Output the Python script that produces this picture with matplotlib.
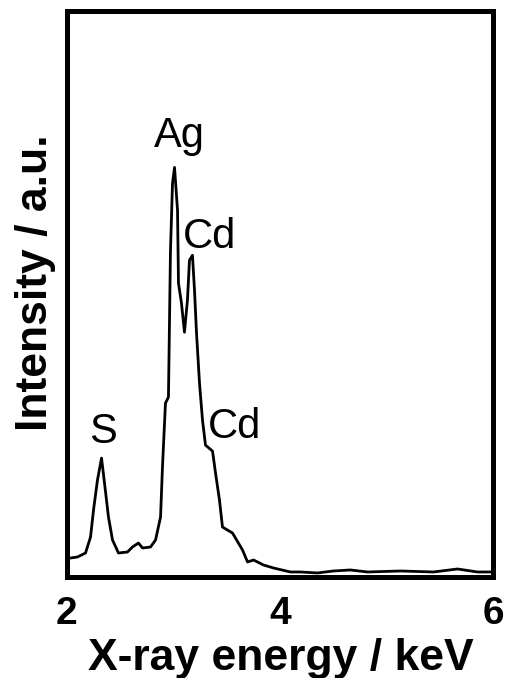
import matplotlib
matplotlib.use("Agg")
import matplotlib.pyplot as plt

plt.rcParams['font.family'] = ['Liberation Sans', 'DejaVu Sans']

# EDX spectrum (energy in keV, intensity in a.u.)
energy = [2.00, 2.037, 2.103, 2.178, 2.225, 2.253, 2.290, 2.328, 2.356, 2.393,
          2.431, 2.487, 2.571, 2.618, 2.674, 2.712, 2.787, 2.834, 2.881, 2.899,
          2.927, 2.955, 2.974, 2.993, 3.012, 3.040, 3.049, 3.077, 3.105, 3.133,
          3.152, 3.180, 3.199, 3.218, 3.246, 3.274, 3.302, 3.368, 3.396, 3.433,
          3.461, 3.555, 3.649, 3.696, 3.752, 3.845, 3.939, 4.098, 4.192, 4.351,
          4.501, 4.660, 4.820, 5.129, 5.438, 5.663, 5.850, 6.00]
intensity = [17, 18, 19, 23, 39, 66, 96, 118, 93, 59,
             36, 23, 24, 29, 33, 28, 29, 36, 59, 109,
             173, 179, 326, 393, 409, 366, 293, 273, 244, 276,
             316, 321, 286, 243, 193, 156, 131, 125, 103, 76,
             49, 43, 26, 14, 16, 11, 8, 4, 4, 3,
             5, 6, 4, 5, 4, 7, 4, 4]

peak_names = ["S", "Ag", "Cd", "Cd"]
peak_x = [2.337, 3.059, 3.344, 3.578]
peak_y = [133, 429, 328, 138]

fig = plt.figure(figsize=(5.05, 6.78), dpi=100)
ax = fig.add_axes([0.1317, 0.149, 0.8455, 0.8355])

ax.plot(energy, intensity, color="black", lw=2.0)

for name, px, py in zip(peak_names, peak_x, peak_y):
    ax.text(px, py, name, ha="center", va="baseline", fontsize=30)

ax.set_xlim(2, 6)
ax.set_ylim(-1, 566)
ax.set_xticks([2, 4, 6])
ax.set_yticks([])
ax.tick_params(axis="x", length=0, pad=14, labelsize=28)
for lab in ax.get_xticklabels():
    lab.set_fontweight("bold")
for sp in ax.spines.values():
    sp.set_linewidth(3.6)

ax.set_xlabel("X-ray energy / keV", fontsize=32, fontweight="bold")
ax.xaxis.set_label_coords(0.501, -0.108)
ax.set_ylabel("Intensity / a.u.", fontsize=32, fontweight="bold")
ax.yaxis.set_label_coords(-0.025, 0.52)

fig.savefig("out.png", dpi=100)
